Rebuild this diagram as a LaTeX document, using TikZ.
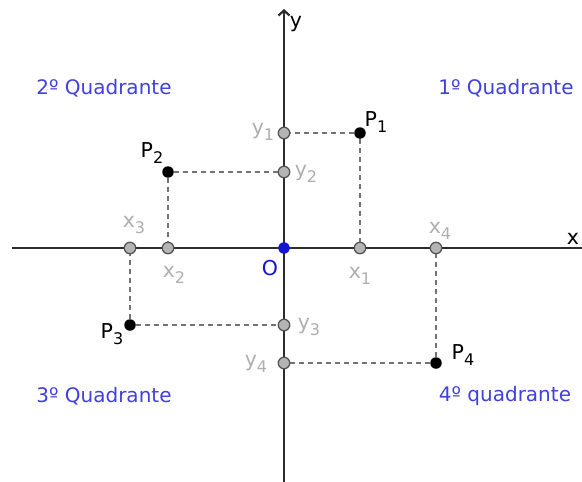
\documentclass[tikz,border=0pt]{standalone}
\usepackage{fontspec}
\setmainfont{DejaVu Sans}
\usetikzlibrary{arrows.meta}
\definecolor{quadblue}{RGB}{64,64,224}
\definecolor{oblue}{RGB}{20,20,210}
\definecolor{lblgray}{RGB}{175,175,175}
\definecolor{axisgray}{RGB}{45,45,45}
\definecolor{dashgray}{RGB}{115,115,115}
\definecolor{ptfill}{RGB}{180,180,180}
\definecolor{ptdraw}{RGB}{80,80,80}
\newcommand{\mysub}[1]{\raisebox{-0.55ex}{\fontsize{16}{16}\selectfont #1}}
\tikzset{
  axisline/.style={line width=2.6pt, draw=axisgray},
  projline/.style={line width=1.5pt, draw=dashgray, dash pattern=on 5pt off 4pt},
  gpt/.style={circle, inner sep=0pt, minimum size=11.5pt, fill=ptfill, draw=ptdraw, line width=1.2pt},
  bpt/.style={circle, inner sep=0pt, minimum size=11.5pt, fill=black},
  opt/.style={circle, inner sep=0pt, minimum size=11.5pt, fill=oblue},
  quad/.style={text=quadblue, font=\fontsize{20}{20}\selectfont, inner sep=0pt},
  plbl/.style={text=black, font=\fontsize{20.5}{20}\selectfont, inner sep=0pt},
  glbl/.style={text=lblgray, font=\fontsize{20.5}{20}\selectfont, inner sep=0pt},
}
\begin{document}
\begin{tikzpicture}[x=1pt, y=-1pt]
\useasboundingbox (0,0) rectangle (582,482);
\fill[white] (0,0) rectangle (582,482);
% axes
\coordinate (xl) at (12,248);
\coordinate (xr) at (582,248);
\coordinate (yb) at (284,482);
\coordinate (yt) at (284,9);
\draw[axisline] (xl) -- (xr);
\draw[axisline, -{Straight Barb[length=5pt, width=11pt, line width=2.2pt]}] (yb) -- (yt);
% points
\node[opt] (o) at (284,248) {};
\node[bpt] (p1) at (360,133) {};
\node[bpt] (p2) at (168,172) {};
\node[bpt] (p3) at (130,325) {};
\node[bpt] (p4) at (436,363) {};
\node[gpt] (x1) at (360,248) {};
\node[gpt] (x2) at (168,248) {};
\node[gpt] (x3) at (130,248) {};
\node[gpt] (x4) at (436,248) {};
\node[gpt] (y1) at (284,133) {};
\node[gpt] (y2) at (284,172) {};
\node[gpt] (y3) at (284,325) {};
\node[gpt] (y4) at (284,363) {};
% projections
\draw[projline] (p1) -- (y1);
\draw[projline] (p1) -- (x1);
\draw[projline] (p2) -- (y2);
\draw[projline] (p2) -- (x2);
\draw[projline] (p3) -- (y3);
\draw[projline] (p3) -- (x3);
\draw[projline] (p4) -- (y4);
\draw[projline] (p4) -- (x4);
% axis labels
\node[plbl] (lx) at (573,239) {x};
\node[plbl] (ly) at (296,24) {y};
\node[plbl, text=oblue] (lo) at (270,268) {O};
% point labels
\node[plbl] (lp1) at (376,122) {P\mysub{1}};
\node[plbl] (lp2) at (152,153) {P\mysub{2}};
\node[plbl] (lp3) at (112,334) {P\mysub{3}};
\node[plbl] (lp4) at (463,355) {P\mysub{4}};
% projection labels
\node[glbl] (lx1) at (360,276) {x\mysub{1}};
\node[glbl] (lx2) at (174,275) {x\mysub{2}};
\node[glbl] (lx3) at (134,225) {x\mysub{3}};
\node[glbl] (lx4) at (440,231) {x\mysub{4}};
\node[glbl] (ly1) at (263,132) {y\mysub{1}};
\node[glbl] (ly2) at (306,174) {y\mysub{2}};
\node[glbl] (ly3) at (309,327) {y\mysub{3}};
\node[glbl] (ly4) at (256,364) {y\mysub{4}};
% quadrant labels
\node[quad] (q1) at (506,88) {1º Quadrante};
\node[quad] (q2) at (104,88) {2º Quadrante};
\node[quad] (q3) at (104,396) {3º Quadrante};
\node[quad] (q4) at (505,396) {4º quadrante};
\end{tikzpicture}
\end{document}
